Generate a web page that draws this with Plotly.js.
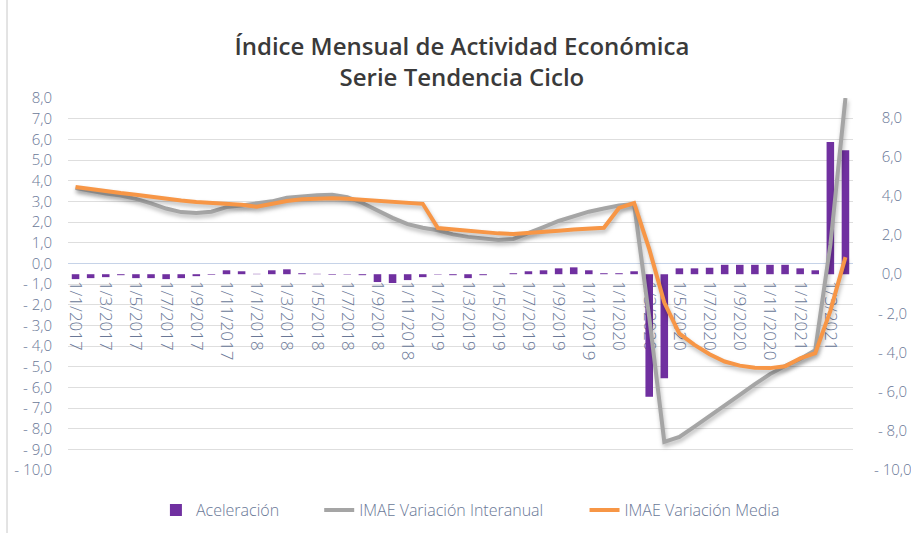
<!DOCTYPE html>
<html><head><meta charset="utf-8">
<script src="https://cdn.plot.ly/plotly-3.0.1.min.js"></script>
<style>
html,body{margin:0;padding:0;background:#fff;}
#chart{width:911px;height:533px;}
.scatterlayer .js-line{filter:drop-shadow(1px 3px 2px rgba(0,0,0,0.28));}
</style></head><body><div id="chart"></div>
<script>
const categories = [
 "1/1/2017","1/2/2017","1/3/2017","1/4/2017","1/5/2017","1/6/2017","1/7/2017","1/8/2017","1/9/2017","1/10/2017","1/11/2017","1/12/2017",
 "1/1/2018","1/2/2018","1/3/2018","1/4/2018","1/5/2018","1/6/2018","1/7/2018","1/8/2018","1/9/2018","1/10/2018","1/11/2018","1/12/2018",
 "1/1/2019","1/2/2019","1/3/2019","1/4/2019","1/5/2019","1/6/2019","1/7/2019","1/8/2019","1/9/2019","1/10/2019","1/11/2019","1/12/2019",
 "1/1/2020","1/2/2020","1/3/2020","1/4/2020","1/5/2020","1/6/2020","1/7/2020","1/8/2020","1/9/2020","1/10/2020","1/11/2020","1/12/2020",
 "1/1/2021","1/2/2021","1/3/2021","1/4/2021"
];
const aceleracion = [
 -0.25,-0.2,-0.15,-0.05,-0.2,-0.2,-0.25,-0.2,-0.1,-0.03,0.2,0.15,
 0.02,0.2,0.25,0.05,0.02,-0.03,-0.02,-0.05,-0.4,-0.45,-0.3,-0.15,
 -0.02,-0.05,-0.2,-0.05,0.0,0.05,0.15,0.2,0.3,0.35,0.2,0.05,
 0.05,0.15,-6.26,-5.32,0.3,0.3,0.33,0.48,0.48,0.48,0.48,0.48,
 0.3,0.2,6.75,6.33
];
const interanual = [
 3.64,3.50,3.38,3.28,3.12,2.90,2.65,2.48,2.43,2.50,2.72,2.80,
 2.88,3.00,3.18,3.26,3.30,3.32,3.20,2.92,2.55,2.20,1.90,1.72,
 1.60,1.40,1.28,1.20,1.13,1.18,1.45,1.75,2.05,2.30,2.50,2.65,
 2.80,2.87,-2.60,-8.64,-8.40,-7.90,-7.40,-6.86,-6.37,-5.84,-5.36,-4.97,
 -4.63,-4.20,0.90,8.00
];
const media = [
 3.69,3.58,3.48,3.40,3.32,3.22,3.12,3.04,2.97,2.93,2.90,2.83,
 2.74,2.88,3.02,3.10,3.14,3.15,3.13,3.08,3.03,2.98,2.93,2.88,
 1.71,1.64,1.57,1.50,1.45,1.42,1.46,1.52,1.58,1.64,1.70,1.72,
 2.68,2.92,0.70,-1.90,-3.40,-3.95,-4.40,-4.75,-4.95,-5.05,-5.07,-4.98,
 -4.60,-4.35,-2.30,0.30
];
const leftTickVals = [8,7,6,5,4,3,2,1,0,-1,-2,-3,-4,-5,-6,-7,-8,-9,-10];
const leftTickText = ["8,0","7,0","6,0","5,0","4,0","3,0","2,0","1,0","0,0","- 1,0","- 2,0","- 3,0","- 4,0","- 5,0","- 6,0","- 7,0","- 8,0","- 9,0","- 10,0"];
const rightTickVals = [8,6,4,2,0,-2,-4,-6,-8,-10];
const rightTickText = ["\u00a0\u00a08,0","\u00a0\u00a06,0","\u00a0\u00a04,0","\u00a0\u00a02,0","\u00a0\u00a00,0","\u00a0- 2,0","\u00a0- 4,0","\u00a0- 6,0","\u00a0- 8,0","- 10,0"];
const xTickVals = categories.filter((c, i) => i % 2 === 0);

const tickColor = '#6a7897';
const yTickFont = {family: 'Open Sans', size: 15, color: tickColor, weight: 300};
const xTickFont = {family: 'Open Sans', size: 17, color: tickColor, weight: 300};

const traces = [
 {type: 'bar', name: 'Aceleración', x: categories, y: aceleracion, yaxis: 'y',
  marker: {color: '#7030a0'}, legend: 'legend'},
 {type: 'scatter', mode: 'lines', name: 'IMAE Variación Interanual', x: categories, y: interanual, yaxis: 'y2',
  line: {color: '#a5a5a5', width: 4}, legend: 'legend2'},
 {type: 'scatter', mode: 'lines', name: 'IMAE Variación Media', x: categories, y: media, yaxis: 'y2',
  line: {color: '#f79646', width: 4}, legend: 'legend3'}
];

const legFont = {family: 'Open Sans', size: 16, color: tickColor, weight: 300};
const legY = 0.043;
const legCommon = {orientation: 'h', yref: 'container', y: legY, xanchor: 'left', yanchor: 'middle',
 font: legFont, bgcolor: 'rgba(0,0,0,0)'};
const layout = {
 width: 911, height: 533,
 margin: {l: 68, r: 58, t: 98, b: 63},
 paper_bgcolor: '#ffffff', plot_bgcolor: '#ffffff',
 bargap: 0.5,
 title: {text: 'Índice Mensual de Actividad Económica<br>Serie Tendencia Ciclo',
  font: {family: 'Open Sans', size: 24, color: '#3a3a3a', weight: 600},
  x: 0.507, xanchor: 'center', y: 0.897, yanchor: 'top', yref: 'container'},
 xaxis: {type: 'category', anchor: 'free', position: 0.511,
  tickmode: 'array', tickvals: xTickVals, tickangle: 90,
  tickfont: xTickFont, showgrid: false, showline: false, zeroline: false,
  ticks: '', layer: 'below traces', range: [-0.5, 51.5]},
 yaxis: {side: 'right', range: [-10, 9], tickmode: 'array', tickvals: rightTickVals, ticktext: rightTickText,
  tickfont: yTickFont, showgrid: false, zeroline: false, showline: false, ticks: '', ticklabelstandoff: 20},
 yaxis2: {overlaying: 'y', side: 'left', range: [-10, 8], tickmode: 'array', tickvals: leftTickVals, ticktext: leftTickText,
  tickfont: yTickFont, showgrid: true, gridcolor: '#dedede', gridwidth: 1,
  zeroline: true, zerolinecolor: '#c6d3e8', zerolinewidth: 1, showline: false, ticks: '', ticklabelstandoff: 15},
 legend: Object.assign({}, legCommon, {x: 0.112}),
 legend2: Object.assign({}, legCommon, {x: 0.320}),
 legend3: Object.assign({}, legCommon, {x: 0.658}),
 shapes: [{type: 'line', xref: 'paper', yref: 'paper', x0: -0.0777, x1: -0.0777, y0: -0.2, y1: 1.27,
  line: {color: '#c8c8c8', width: 1}}],
 showlegend: true
};
Plotly.newPlot('chart', traces, layout, {displayModeBar: false, staticPlot: true});
</script>
</body></html>
